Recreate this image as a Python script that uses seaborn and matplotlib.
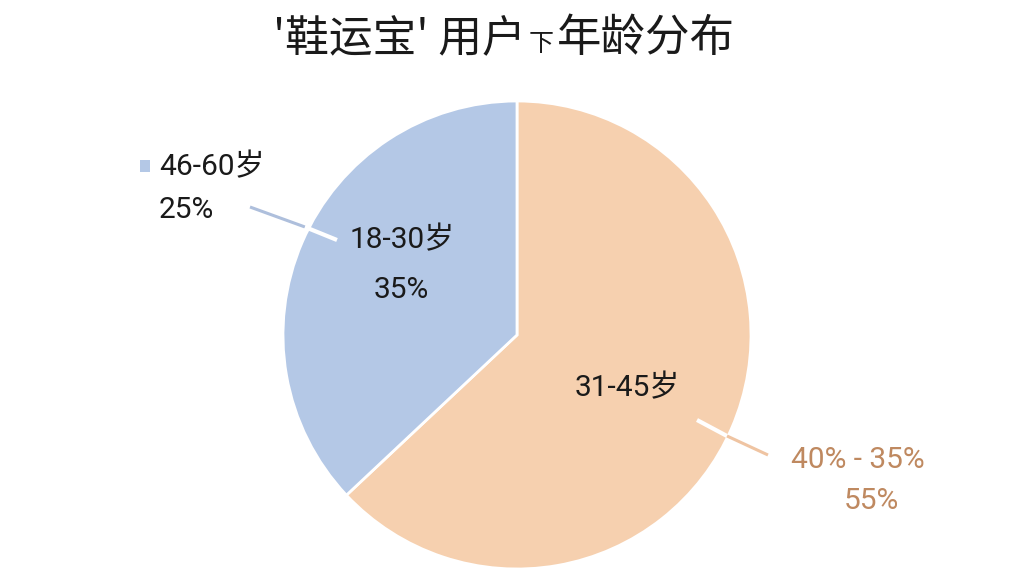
import matplotlib
matplotlib.use("Agg")
import matplotlib.pyplot as plt
import seaborn as sns
from matplotlib.lines import Line2D
from matplotlib.patches import Rectangle

sns.set_theme(style="white")
plt.rcParams['font.family'] = ['Noto Sans CJK SC', 'DejaVu Sans']

# data
title_parts = ["'鞋运宝' 用户", "下", "年龄分布"]
slice_names = ["31-45岁", "18-30岁"]
slice_values = [63, 37]
slice_colors = ["#f6d0af", "#b4c8e6"]
inner_pcts = ["", "35%"]
outer_blue = ["46-60岁", "25%"]
outer_orange = ["40% - 35%", "55%"]

W, H = 1024, 576
fig = plt.figure(figsize=(W / 100, H / 100), dpi=100)
fig.patch.set_facecolor("white")

cx, cy, r = 517, 335, 234
ax = fig.add_axes([(cx - r) / W, (H - cy - r) / H, 2 * r / W, 2 * r / H])
ax.pie(slice_values, colors=slice_colors, startangle=90, counterclock=False,
       radius=1, wedgeprops=dict(edgecolor="white", linewidth=2))
ax.set_xlim(-1, 1)
ax.set_ylim(-1, 1)
ax.set_aspect("equal")
ax.axis("off")

def fx(px):
    return px / W

def fy(py):
    return 1 - py / H

LF = ['Roboto', 'Noto Sans CJK SC', 'DejaVu Sans']
LS = 21.5

# title, assembled from parts with a smaller middle glyph
fig.text(fx(526), fy(51), title_parts[0], ha="right", va="baseline", fontsize=31.5, color="#1a1a1a")
fig.text(fx(529), fy(51), title_parts[1], ha="left", va="baseline", fontsize=18, color="#1a1a1a")
fig.text(fx(557), fy(51), title_parts[2], ha="left", va="baseline", fontsize=32, color="#1a1a1a")

# inner labels
fig.text(fx(627), fy(388), slice_names[0], ha="center", va="center", fontsize=LS, color="#1a1a1a", family=LF)
fig.text(fx(402), fy(240), slice_names[1], ha="center", va="center", fontsize=LS, color="#1a1a1a", family=LF)
fig.text(fx(401), fy(290), inner_pcts[1], ha="center", va="center", fontsize=LS, color="#1a1a1a", family=LF)

# outer blue label with square marker
fig.add_artist(Rectangle((fx(140), fy(172)), 10 / W, 12 / H, transform=fig.transFigure,
                         facecolor="#b4c8e6", edgecolor="none"))
fig.text(fx(159), fy(167), outer_blue[0], ha="left", va="center", fontsize=LS, color="#1a1a1a", family=LF)
fig.text(fx(159), fy(210), outer_blue[1], ha="left", va="center", fontsize=LS, color="#1a1a1a", family=LF)

# outer orange label
fig.text(fx(858), fy(460), outer_orange[0], ha="center", va="center", fontsize=LS, color="#bf8960", family=LF)
fig.text(fx(871), fy(501), outer_orange[1], ha="center", va="center", fontsize=LS, color="#bf8960", family=LF)

# leader lines
fig.add_artist(Line2D([fx(250), fx(305)], [fy(207), fy(227)], transform=fig.transFigure,
                      color="#aebfdc", linewidth=2.2, solid_capstyle="butt"))
fig.add_artist(Line2D([fx(305), fx(337)], [fy(227), fy(240)], transform=fig.transFigure,
                      color="white", linewidth=3, solid_capstyle="butt"))
fig.add_artist(Line2D([fx(697), fx(727)], [fy(420), fy(436)], transform=fig.transFigure,
                      color="white", linewidth=3, solid_capstyle="butt"))
fig.add_artist(Line2D([fx(727), fx(768)], [fy(436), fy(455)], transform=fig.transFigure,
                      color="#efc4a2", linewidth=2.2, solid_capstyle="butt"))

fig.savefig("out.png", dpi=100, facecolor="white")
